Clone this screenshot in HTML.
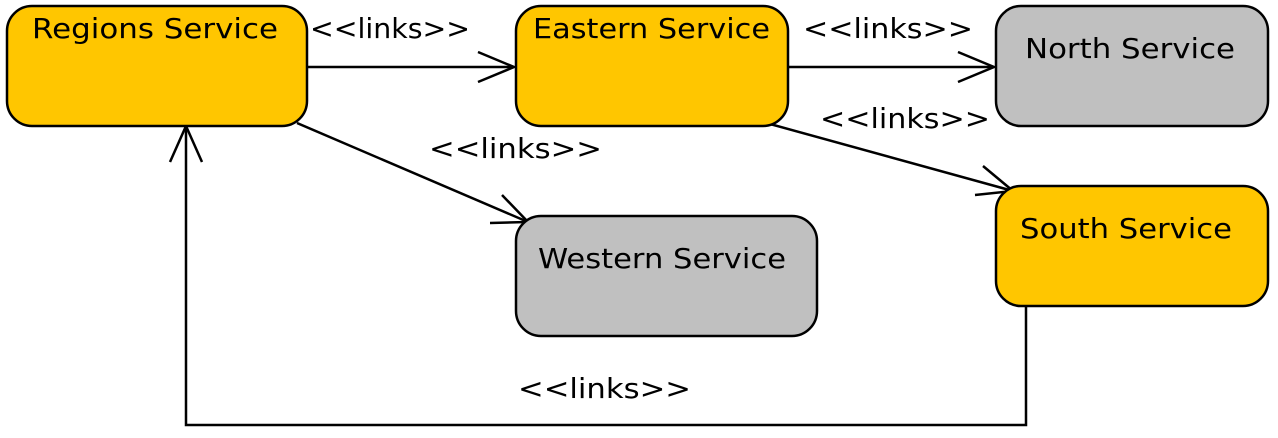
<!DOCTYPE html>
<html><head><style>body{margin:0;background:#fff}svg{display:block}text{font-family:"DejaVu Sans",sans-serif;font-size:28px;fill:#000}</style></head>
<body>
<svg width="1278" height="438" viewBox="0 0 1278 438" xmlns="http://www.w3.org/2000/svg">
<g stroke="#000" stroke-width="2.5" fill="none">
<line x1="307" y1="67" x2="514" y2="67"/>
<polyline points="478,52 514,67 478,82"/>
<line x1="788" y1="67" x2="994" y2="67"/>
<polyline points="958,52 994,67 958,82"/>
<line x1="297" y1="123" x2="528" y2="222"/>
<polyline points="490,223 528,222 502,195"/>
<line x1="770" y1="124" x2="1013" y2="191"/>
<polyline points="975,195 1013,191 983,166"/>
<polyline points="1026,306 1026,425 186,425 186,128"/>
<polyline points="170,162 186,126 202,162"/>
</g>
<g stroke="#000" stroke-width="2.5">
<rect x="7" y="6" width="300" height="120" rx="25" fill="#FFC600"/>
<rect x="516" y="6" width="272" height="120" rx="25" fill="#FFC600"/>
<rect x="996" y="6" width="272" height="120" rx="25" fill="#C0C0C0"/>
<rect x="516" y="216" width="301" height="120" rx="25" fill="#C0C0C0"/>
<rect x="996" y="186" width="272" height="120" rx="25" fill="#FFC600"/>
</g>
<text x="32" y="38" textLength="246" lengthAdjust="spacingAndGlyphs">Regions Service</text>
<text x="533" y="38" textLength="237" lengthAdjust="spacingAndGlyphs">Eastern Service</text>
<text x="1025" y="58" textLength="210" lengthAdjust="spacingAndGlyphs">North Service</text>
<text x="538" y="268" textLength="248" lengthAdjust="spacingAndGlyphs">Western Service</text>
<text x="1020" y="238" textLength="212" lengthAdjust="spacingAndGlyphs">South Service</text>
<text x="310" y="38" textLength="160" lengthAdjust="spacingAndGlyphs">&lt;&lt;links&gt;&gt;</text>
<text x="803" y="38" textLength="170" lengthAdjust="spacingAndGlyphs">&lt;&lt;links&gt;&gt;</text>
<text x="820" y="128" textLength="170" lengthAdjust="spacingAndGlyphs">&lt;&lt;links&gt;&gt;</text>
<text x="429" y="158" textLength="173" lengthAdjust="spacingAndGlyphs">&lt;&lt;links&gt;&gt;</text>
<text x="518" y="398" textLength="173" lengthAdjust="spacingAndGlyphs">&lt;&lt;links&gt;&gt;</text>
</svg>
</body></html>
